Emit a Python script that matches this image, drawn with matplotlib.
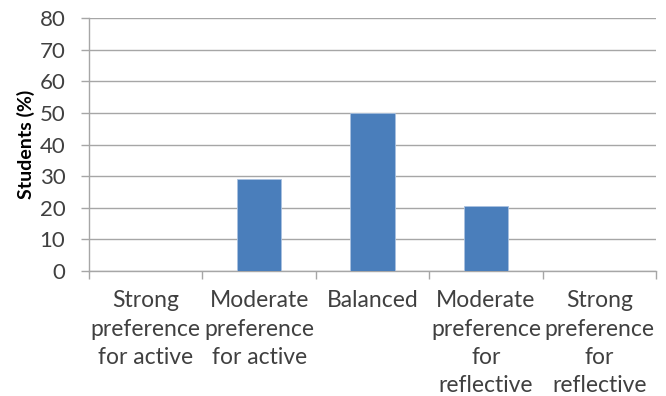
import matplotlib.pyplot as plt
import numpy as np

categories = ["Strong\npreference\nfor active",
              "Moderate\npreference\nfor active",
              "Balanced",
              "Moderate\npreference\nfor\nreflective",
              "Strong\npreference\nfor\nreflective"]
students_pct = [0, 29.2, 50, 20.6, 0]
yticks = [0, 10, 20, 30, 40, 50, 60, 70, 80]

plt.rcParams['font.family'] = ['Lato', 'DejaVu Sans']

fig = plt.figure(figsize=(6.66, 3.96), dpi=100)
ax = fig.add_axes([0.1336, 0.3157, 0.8514, 0.6388])

grid_col = '#a6a6a6'
x = np.arange(len(categories))
ax.bar(x, students_pct, width=0.39, color='#4a7ebb', edgecolor='#a9c1e0',
       linewidth=0.6, zorder=3)

ax.set_xlim(-0.5, len(categories) - 0.5)
ax.set_ylim(0, 80)
ax.set_yticks(yticks)
ax.set_yticklabels([str(v) for v in yticks], fontsize=16, color='#404040')
ax.yaxis.grid(True, color=grid_col, linewidth=1.0, zorder=0)
ax.tick_params(axis='y', length=6, width=1.0, color=grid_col, pad=11)

# category labels sit between the boundary tick marks
ax.set_xticks(x)
ax.set_xticklabels(categories, fontsize=16.5, color='#404040', linespacing=1.42,
                   va='top')
ax.tick_params(axis='x', length=0, pad=14)
ax.set_xticks(np.arange(-0.5, len(categories)), minor=True)
ax.tick_params(axis='x', which='minor', length=6, width=1.0, color=grid_col)

for side in ['top', 'right']:
    ax.spines[side].set_visible(False)
for side in ['left', 'bottom']:
    ax.spines[side].set_color(grid_col)
    ax.spines[side].set_linewidth(1.0)

ax.set_ylabel("Students (%)", fontsize=14, fontweight='bold', color='#000000',
              labelpad=3)

fig.savefig("out.png", dpi=100)
